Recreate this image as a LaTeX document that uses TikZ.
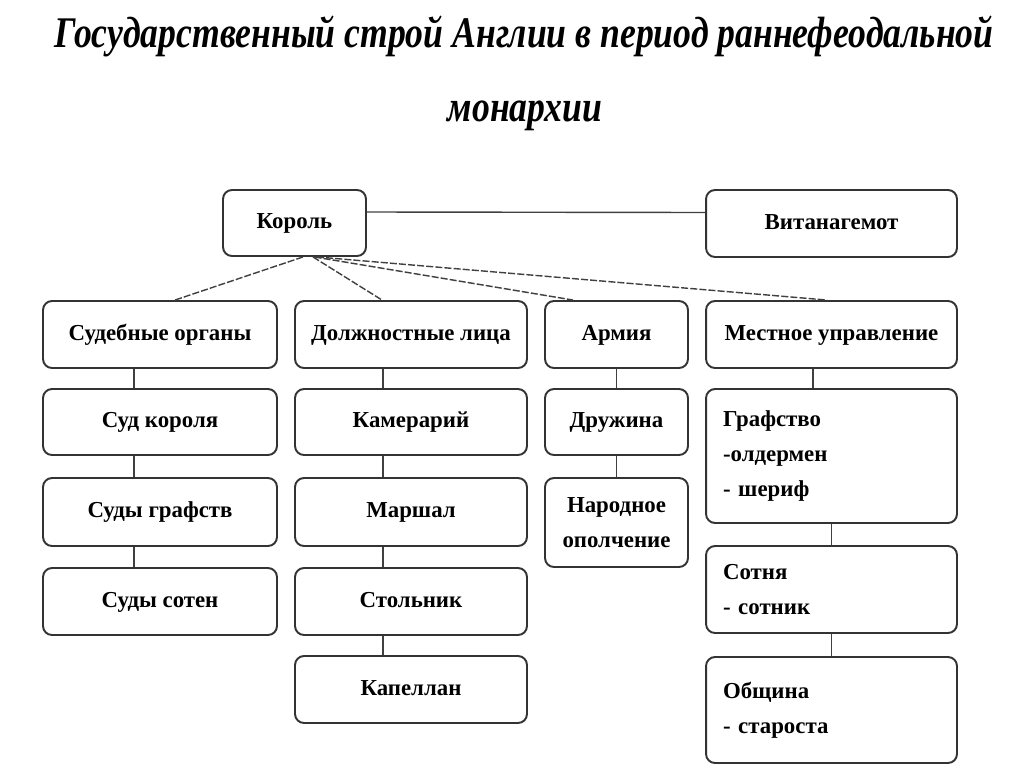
\documentclass[tikz,border=0pt]{standalone}
\usepackage{fontspec}
\setmainfont{Liberation Serif}
\begin{document}
\begin{tikzpicture}[x=0.02cm,y=-0.02cm,
  box/.style={draw=black!80, line width=1.1pt, rounded corners=0.18cm, inner sep=0pt,
    font=\fontsize{13}{20}\selectfont\bfseries, align=center},
  sbox/.style={box, text height=9.5pt, text depth=3pt},
  lbox/.style={box, align=left, text width=4.34cm, inner xsep=0.34cm},
  link/.style={draw=black!75, line width=0.8pt},
  dlink/.style={link, dash pattern=on 4pt off 1.2pt},
  ttl/.style={font=\fontsize{24.9}{30}\selectfont\bfseries\itshape, anchor=base, inner sep=0pt}]
\useasboundingbox (0,0) rectangle (1024,767);
% title
\node[ttl] (t1) at (524,48) {\scalebox{0.815}[1]{Государственный строй Англии в период раннефеодальной}};
\node[ttl] (t2) at (525,122) {\scalebox{0.815}[1]{монархии}};
% top row
\node[sbox, minimum width=2.86cm, minimum height=1.32cm] (K) at (294.5,223) {Король};
\node[sbox, minimum width=5.02cm, minimum height=1.34cm] (V) at (831.5,223.5) {Витанагемот};
% second row
\node[sbox, minimum width=4.68cm, minimum height=1.34cm] (S1) at (160,334.5) {Судебные органы};
\node[sbox, minimum width=4.64cm, minimum height=1.34cm] (D1) at (411,334.5) {Должностные лица};
\node[sbox, minimum width=2.86cm, minimum height=1.34cm] (A1) at (616.5,334.5) {Армия};
\node[sbox, minimum width=5.02cm, minimum height=1.34cm] (M1) at (831.5,334.5) {Местное управление};
% column 1
\node[sbox, minimum width=4.68cm, minimum height=1.32cm] (S2) at (160,422) {Суд короля};
\node[sbox, minimum width=4.68cm, minimum height=1.36cm] (S3) at (160,512) {Суды графств};
\node[sbox, minimum width=4.68cm, minimum height=1.34cm] (S4) at (160,601.5) {Суды сотен};
% column 2
\node[sbox, minimum width=4.64cm, minimum height=1.32cm] (D2) at (411,422) {Камерарий};
\node[sbox, minimum width=4.64cm, minimum height=1.36cm] (D3) at (411,512) {Маршал};
\node[sbox, minimum width=4.64cm, minimum height=1.34cm] (D4) at (411,601.5) {Стольник};
\node[sbox, minimum width=4.64cm, minimum height=1.34cm] (D5) at (411,689.5) {Капеллан};
% column 3
\node[sbox, minimum width=2.86cm, minimum height=1.32cm] (A2) at (616.5,422) {Дружина};
\node[box, minimum width=2.86cm, minimum height=1.78cm] (A3) at (616.5,522.5) {Народное\\ополчение};
% column 4
\node[lbox, minimum height=2.68cm] (M2) at (831.5,456) {Графство\\-олдермен\\- шериф};
\node[lbox, minimum height=1.74cm] (M3) at (831.5,589.5) {Сотня\\- сотник};
\node[lbox, minimum height=2.12cm] (M4) at (831.5,710) {Община\\- староста};
% connectors
\draw[link] ([yshift=0.22cm]K.east) -- ([yshift=0.22cm]V.west);
\draw[dlink] ([xshift=0.17cm]K.south) -- ([xshift=0.3cm]S1.north);
\draw[dlink] ([xshift=0.37cm]K.south) -- ([xshift=-0.58cm]D1.north);
\draw[dlink] ([xshift=0.4cm]K.south) -- ([xshift=-0.87cm]A1.north);
\draw[dlink] ([xshift=0.45cm]K.south) -- ([xshift=-0.09cm]M1.north);
\draw[link] ([xshift=-0.52cm]S1.south) -- ([xshift=-0.52cm]S2.north);
\draw[link] ([xshift=-0.52cm]S2.south) -- ([xshift=-0.52cm]S3.north);
\draw[link] ([xshift=-0.52cm]S3.south) -- ([xshift=-0.52cm]S4.north);
\draw[link] ([xshift=-0.56cm]D1.south) -- ([xshift=-0.56cm]D2.north);
\draw[link] ([xshift=-0.56cm]D2.south) -- ([xshift=-0.56cm]D3.north);
\draw[link] ([xshift=-0.56cm]D3.south) -- ([xshift=-0.56cm]D4.north);
\draw[link] ([xshift=-0.56cm]D4.south) -- ([xshift=-0.56cm]D5.north);
\draw[link] (A1.south) -- (A2.north);
\draw[link] (A2.south) -- (A3.north);
\draw[link] ([xshift=-0.37cm]M1.south) -- ([xshift=-0.37cm]M2.north);
\draw[link] (M2.south) -- (M3.north);
\draw[link] (M3.south) -- (M4.north);
\end{tikzpicture}
\end{document}
